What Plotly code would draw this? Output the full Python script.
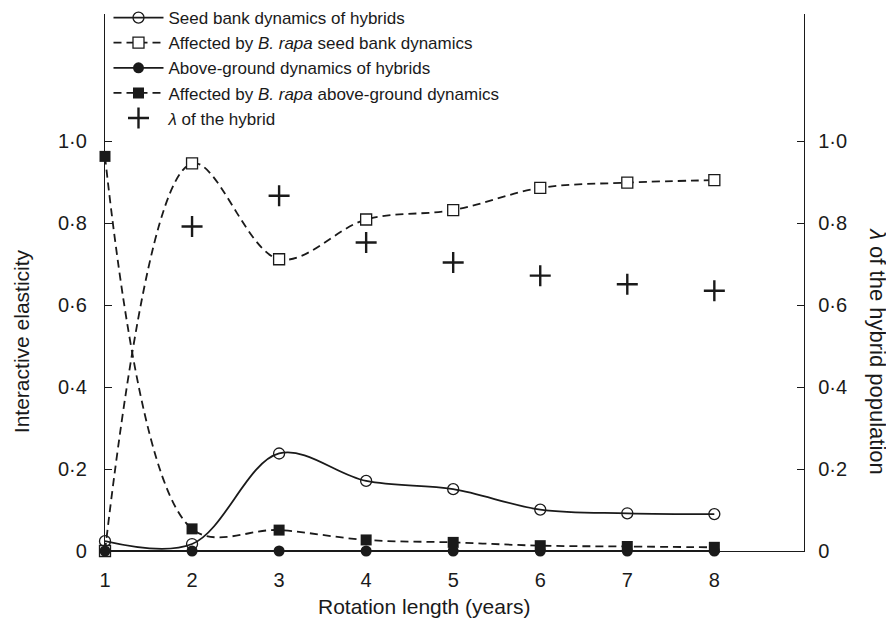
import plotly.graph_objects as go

rotation = [1, 2, 3, 4, 5, 6, 7, 8]
seed_bank_hybrids = [0.024, 0.017, 0.238, 0.171, 0.151, 0.101, 0.092, 0.090]
affected_seed_bank = [0.0, 0.946, 0.712, 0.809, 0.832, 0.886, 0.899, 0.905]
above_ground_hybrids = [0, 0, 0, 0, 0, 0, 0, 0]
affected_above_ground = [0.963, 0.054, 0.051, 0.027, 0.021, 0.013, 0.011, 0.009]
lambda_x = [2, 3, 4, 5, 6, 7, 8]
lambda_hybrid = [0.792, 0.867, 0.753, 0.704, 0.672, 0.651, 0.635]

y_tickvals = [0, 0.2, 0.4, 0.6, 0.8, 1.0, 1.31]
y_ticktext = ["0", "0·2", "0·4", "0·6", "0·8", "1·0", ""]
x_tickvals = [1, 2, 3, 4, 5, 6, 7, 8]
x_ticktext = ["1", "2", "3", "4", "5", "6", "7", "8"]

INK = "#1a1a1a"
FONT = "Liberation Sans, Arial, sans-serif"

fig = go.Figure()

fig.add_trace(go.Scatter(
    x=rotation, y=seed_bank_hybrids, mode="lines+markers",
    name="Seed bank dynamics of hybrids",
    line=dict(color=INK, width=1.8, shape="spline", smoothing=1),
    marker=dict(symbol="circle-open", size=11, color=INK, line=dict(width=1.3)),
    cliponaxis=False))

fig.add_trace(go.Scatter(
    x=rotation, y=affected_seed_bank, mode="lines+markers",
    name="Affected by <i>B. rapa</i> seed bank dynamics",
    line=dict(color=INK, width=1.8, dash="8px,5px", shape="spline", smoothing=1),
    marker=dict(symbol="square", size=11, color="white", line=dict(width=1.3, color=INK)),
    cliponaxis=False))

fig.add_trace(go.Scatter(
    x=rotation, y=above_ground_hybrids, mode="lines+markers",
    name="Above-ground dynamics of hybrids",
    line=dict(color=INK, width=1.8),
    marker=dict(symbol="circle", size=11, color=INK),
    cliponaxis=False))

fig.add_trace(go.Scatter(
    x=rotation, y=affected_above_ground, mode="lines+markers",
    name="Affected by <i>B. rapa</i> above-ground dynamics",
    line=dict(color=INK, width=1.8, dash="8px,5px", shape="spline", smoothing=1),
    marker=dict(symbol="square", size=11, color=INK),
    cliponaxis=False))

fig.add_trace(go.Scatter(
    x=lambda_x, y=lambda_hybrid, mode="markers", yaxis="y2",
    name="<i>λ</i> of the hybrid",
    marker=dict(symbol="cross-thin", size=15, color=INK, line=dict(width=2.4, color=INK)),
    cliponaxis=False))

axis_common = dict(
    range=[0, 1.3105], tickvals=y_tickvals, ticktext=y_ticktext,
    ticks="inside", ticklen=7, tickwidth=1.3, tickcolor=INK,
    showline=True, linecolor=INK, linewidth=1.3,
    showgrid=False, zeroline=False,
    tickfont=dict(family=FONT, size=20, color=INK),
)

fig.update_layout(
    width=886, height=612,
    margin=dict(l=97, r=90, t=6, b=69, autoexpand=False),
    paper_bgcolor="white", plot_bgcolor="white",
    font=dict(family=FONT, color=INK),
    xaxis=dict(
        range=[1, 9.03], tickvals=x_tickvals, ticktext=x_ticktext,
        ticks="", showline=True, linecolor=INK, linewidth=1.3,
        showgrid=False, zeroline=False, ticklabelstandoff=11,
        tickfont=dict(family=FONT, size=20, color=INK),
    ),
    yaxis=dict(**axis_common, ticklabelstandoff=13),
    yaxis2=dict(**axis_common, overlaying="y", side="right", ticklabelstandoff=9),
    legend=dict(
        x=0.005, y=1.026, xanchor="left", yanchor="top",
        bgcolor="rgba(0,0,0,0)", itemwidth=50,
        font=dict(family=FONT, size=17, color=INK),
    ),
    showlegend=True,
    annotations=[
        dict(text="Rotation length (years)", xref="paper", yref="paper",
             x=0.456, y=-0.1035, xanchor="center", yanchor="middle",
             showarrow=False, font=dict(family=FONT, size=21, color=INK)),
        dict(text="Interactive elasticity", xref="paper", yref="paper",
             x=-0.120, y=0.391, xanchor="center", yanchor="middle", textangle=-90,
             showarrow=False, font=dict(family=FONT, size=21, color=INK)),
        dict(text="<i>λ</i> of the hybrid population", xref="paper", yref="paper",
             x=1.106, y=0.372, xanchor="center", yanchor="middle", textangle=90,
             showarrow=False, font=dict(family=FONT, size=22, color=INK)),
    ],
)

fig.write_html("out.html")
